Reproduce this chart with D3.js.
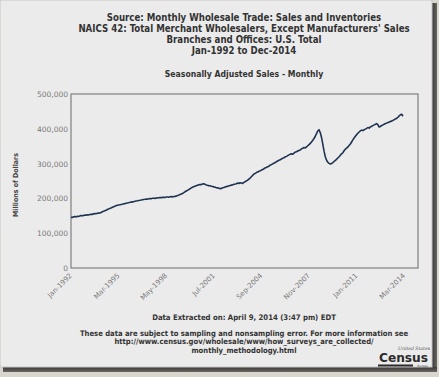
<!DOCTYPE html>
<html>
<head>
<meta charset="utf-8">
<script src="https://cdn.jsdelivr.net/npm/d3@7"></script>
<style>
  body { margin: 0; background: #d9d6d0; }
  svg { display: block; }
</style>
</head>
<body>
<div id="chart"></div>
<script>
// title lines
var titleLines = [
  "Source: Monthly Wholesale Trade: Sales and Inventories",
  "NAICS 42: Total Merchant Wholesalers, Except Manufacturers' Sales",
  "Branches and Offices: U.S. Total",
  "Jan-1992 to Dec-2014"
];
var subTitle = "Seasonally Adjusted Sales - Monthly";
var yTitle = "Millions of Dollars";
var footLines = [
  "These data are subject to sampling and nonsampling error. For more information see",
  "http://www.census.gov/wholesale/www/how_surveys_are_collected/",
  "monthly_methodology.html"
];
var extracted = "Data Extracted on: April 9, 2014 (3:47 pm) EDT";

// axis ticks
var yTicks = [0, 100000, 200000, 300000, 400000, 500000];
var xTickLabels = ["Jan-1992", "Mar-1995", "May-1998", "Jul-2001", "Sep-2004", "Nov-2007", "Jan-2011", "Mar-2014"];

// monthly sales (millions of dollars), starting Jan-1992
var firstMonth = "Jan-1992";
var sales = [
  146000,145300,147100,147600,146900,148700,148200,149500,150600,149800,151100,151900, // 1992
  151400,152800,152300,153900,154700,154000,155600,156300,155700,157100,157800,158400, // 1993
  159600,161500,162900,164800,166100,168200,169400,171500,172600,174400,175700,177600, // 1994
  179200,180300,180900,181800,182700,183400,184600,185000,186200,186900,187600,188700, // 1995
  189300,190100,190800,191600,192500,193200,194100,194700,195400,196300,196900,197500, // 1996
  198200,197700,198900,199500,198900,200300,200600,200000,201400,201100,202000,202500, // 1997
  202100,202900,203400,202800,203900,204200,203500,204600,205000,204300,205300,205800, // 1998
  206500,208400,209300,211300,212400,214200,216500,219000,221100,223200,225400,227600, // 1999
  230200,232100,233800,235300,236100,238200,238900,240100,239700,241300,241800,240400, // 2000
  238600,237900,236200,236500,234800,234300,233100,232400,230800,230300,229200,228100, // 2001
  228600,230400,231100,232800,233900,234600,236100,236800,238200,238900,240300,241200, // 2002
  242300,244100,242900,244800,244200,243100,246000,247900,250400,252100,255300,258400, // 2003
  262400,266100,270300,271800,274200,275600,278100,278900,281300,282800,285200,287900, // 2004
  288700,291200,292600,295800,296900,299300,300800,303100,305200,307600,309700,311200, // 2005
  313100,315600,316900,319200,320800,322900,325100,326800,328400,326900,330200,333100, // 2006
  334200,336100,337900,339100,342300,343800,346200,344900,348100,351300,354200,358100, // 2007
  362300,366900,372100,378600,386200,393800,397400,388600,375200,356100,335800,319600, // 2008
  309800,303900,300600,298900,300200,302800,306100,309400,312300,316200,319800,323900, // 2009
  328100,331200,336800,341400,344300,347900,352100,356400,362200,368100,373400,378600, // 2010
  383200,387100,390800,393900,396200,394800,397300,399100,401200,403400,402100,405300, // 2011
  407200,409100,411300,412900,414800,411600,405200,406400,409800,411200,413300,415100, // 2012
  416200,418300,419100,421400,422100,424300,426200,428400,430100,433200,437100,440300, // 2013
  441900,436200                                                                         // 2014
];

var W = 439, H = 377;
var plot = { left: 71, top: 94, right: 418, bottom: 268 };

var parseMonth = d3.timeParse("%b-%Y");
var start = parseMonth(firstMonth);
function monthIndex(label) {
  var d = parseMonth(label);
  return (d.getFullYear() - start.getFullYear()) * 12 + d.getMonth() - start.getMonth();
}

var svg = d3.select("#chart").append("svg")
  .attr("width", W)
  .attr("height", H);

// frame with drop shadow on right and bottom
var defs = svg.append("defs");
var gr = defs.append("linearGradient").attr("id", "shadowR");
gr.append("stop").attr("offset", "0%").attr("stop-color", "#3a3a3a");
gr.append("stop").attr("offset", "100%").attr("stop-color", "#6a6660");
var gb = defs.append("linearGradient").attr("id", "shadowB")
  .attr("x1", 0).attr("y1", 0).attr("x2", 0).attr("y2", 1);
gb.append("stop").attr("offset", "0%").attr("stop-color", "#3a3a3a");
gb.append("stop").attr("offset", "100%").attr("stop-color", "#6a6660");

svg.append("rect").attr("x", 432).attr("y", 3).attr("width", 5).attr("height", 369)
  .attr("fill", "url(#shadowR)");
svg.append("rect").attr("x", 3).attr("y", 367).attr("width", 434).attr("height", 5)
  .attr("fill", "url(#shadowB)");
svg.append("rect").attr("x", 0).attr("y", 0).attr("width", 432).attr("height", 367)
  .attr("fill", "#ebebeb")
  .attr("stroke", "#c8c6c2")
  .attr("stroke-width", 1);

var titleFont = "'DejaVu Sans Condensed', 'DejaVu Sans', sans-serif";

// titles
svg.append("g").selectAll("text")
  .data(titleLines)
  .enter()
  .append("text")
  .attr("x", 244)
  .attr("y", function (d, i) { return 20.5 + i * 11; })
  .attr("text-anchor", "middle")
  .style("font-family", titleFont)
  .style("font-weight", "bold")
  .style("font-size", "9.6px")
  .style("fill", "#333")
  .text(function (d) { return d; });

svg.append("text")
  .attr("x", 244)
  .attr("y", 77)
  .attr("text-anchor", "middle")
  .style("font-family", titleFont)
  .style("font-weight", "bold")
  .style("font-size", "8.6px")
  .style("fill", "#333")
  .text(subTitle);

// scales
var x = d3.scaleLinear().domain([0, 277]).range([plot.left, plot.right]);
var y = d3.scaleLinear().domain([0, 500000]).range([plot.bottom, plot.top]);

// plot frame
svg.append("rect")
  .attr("x", plot.left)
  .attr("y", plot.top)
  .attr("width", plot.right - plot.left)
  .attr("height", plot.bottom - plot.top)
  .attr("fill", "none")
  .attr("stroke", "#7f7f7f")
  .attr("stroke-width", 1.2);

// y axis
var yAxis = d3.axisLeft(y)
  .tickValues(yTicks)
  .tickFormat(d3.format(","))
  .tickSize(0)
  .tickPadding(3);
var gy = svg.append("g")
  .attr("transform", "translate(" + plot.left + ",0)")
  .call(yAxis);
gy.select(".domain").remove();
gy.selectAll("text")
  .style("font-family", "'DejaVu Sans', sans-serif")
  .style("font-size", "7.5px")
  .style("fill", "#7a7a7a");

svg.append("text")
  .attr("transform", "translate(18,185) rotate(-90)")
  .attr("text-anchor", "middle")
  .style("font-family", titleFont)
  .style("font-weight", "bold")
  .style("font-size", "7px")
  .style("fill", "#444")
  .text(yTitle);

// x axis
var xAxis = d3.axisBottom(x)
  .tickValues(xTickLabels.map(monthIndex))
  .tickFormat(function (d, i) { return xTickLabels[i]; })
  .tickSize(0)
  .tickPadding(0);
var gx = svg.append("g")
  .attr("transform", "translate(0," + plot.bottom + ")")
  .call(xAxis);
gx.select(".domain").remove();
gx.selectAll("text")
  .attr("dy", null)
  .attr("y", 0)
  .attr("transform", "translate(1,8) rotate(-45)")
  .attr("text-anchor", "end")
  .style("font-family", "'DejaVu Sans', sans-serif")
  .style("font-size", "7px")
  .style("fill", "#7a7a7a");

// sales line
var line = d3.line()
  .x(function (d, i) { return x(i); })
  .y(function (d) { return y(d); });

svg.append("path")
  .datum(sales)
  .attr("d", line)
  .attr("fill", "none")
  .attr("stroke", "#1e3350")
  .attr("stroke-width", 1.6)
  .attr("stroke-linejoin", "round");

// footer
svg.append("text")
  .attr("x", 244)
  .attr("y", 319.5)
  .attr("text-anchor", "middle")
  .style("font-family", titleFont)
  .style("font-weight", "bold")
  .style("font-size", "7.7px")
  .style("fill", "#333")
  .text(extracted);

svg.append("g").selectAll("text")
  .data(footLines)
  .enter()
  .append("text")
  .attr("x", 244)
  .attr("y", function (d, i) { return 336 + i * 8.4; })
  .attr("text-anchor", "middle")
  .style("font-family", titleFont)
  .style("font-weight", "bold")
  .style("font-size", "7.6px")
  .style("fill", "#333")
  .text(function (d) { return d; });

// census logo
var logo = svg.append("g");
logo.append("text")
  .attr("x", 430).attr("y", 349.5)
  .attr("text-anchor", "end")
  .style("font-family", "'DejaVu Serif', serif")
  .style("font-style", "italic")
  .style("font-size", "4.6px")
  .style("fill", "#555")
  .text("United States");
logo.append("text")
  .attr("x", 379).attr("y", 362)
  .attr("textLength", 49)
  .attr("lengthAdjust", "spacingAndGlyphs")
  .style("font-family", titleFont)
  .style("font-weight", "bold")
  .style("font-size", "12.5px")
  .style("fill", "#2b2b2b")
  .text("Census");
logo.append("rect")
  .attr("x", 378).attr("y", 364.5).attr("width", 35).attr("height", 2)
  .attr("fill", "#2b2b2b");
logo.append("text")
  .attr("x", 428).attr("y", 366.5)
  .attr("text-anchor", "end")
  .style("font-family", "'DejaVu Sans', sans-serif")
  .style("font-size", "3px")
  .style("fill", "#555")
  .text("Bureau");
</script>
</body>
</html>
